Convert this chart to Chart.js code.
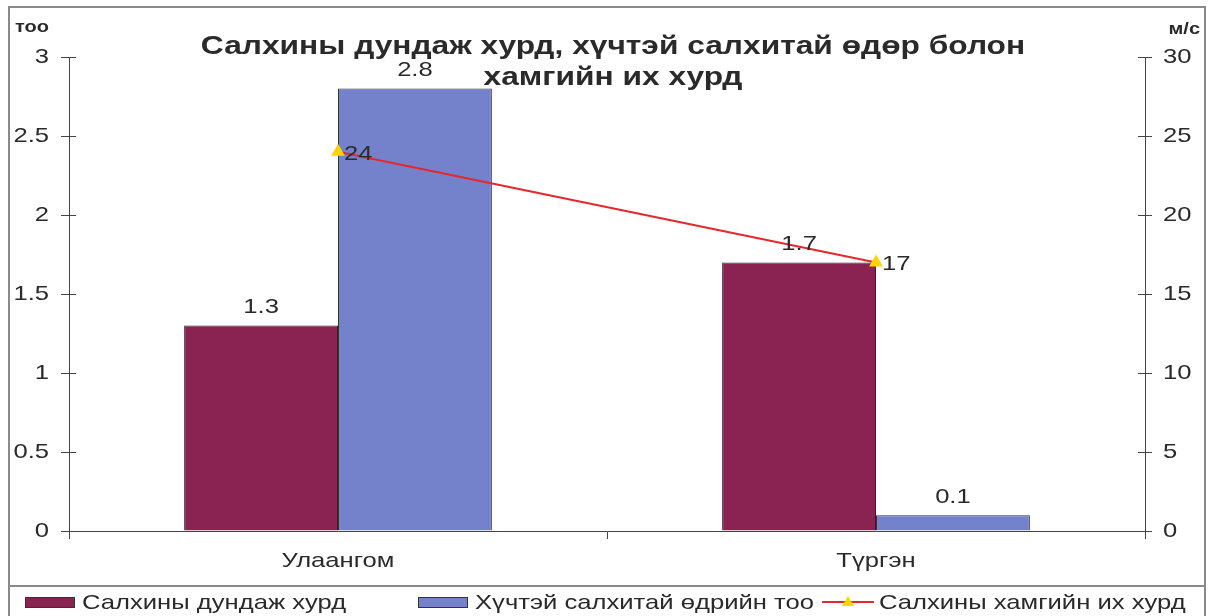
<!DOCTYPE html>
<html><head><meta charset="utf-8">
<script src="https://cdn.jsdelivr.net/npm/chart.js@4"></script>
<style>html,body{margin:0;padding:0;background:#fff}#wrap{width:1212px;height:616px;position:relative}</style>
</head><body><div id="wrap"><canvas id="c" width="1212" height="616"></canvas></div>
<script>
const categories = ['Улаангом', 'Түргэн'];
const avgSpeed = [1.3, 1.7];
const strongWindDays = [2.8, 0.1];
const maxSpeed = [24, 17];
const seriesNames = ['Салхины дундаж хурд', 'Хүчтэй салхитай өдрийн тоо', 'Салхины хамгийн их хурд'];
const titleLines = ['Салхины дундаж хурд, хүчтэй салхитай өдөр болон', 'хамгийн их хурд'];
const leftAxisTitle = 'тоо';
const rightAxisTitle = 'м/с';

const FONT = '"Liberation Sans", Arial, sans-serif';
const MAROON = '#8B2352', BLUE = '#7482CC', RED = '#E8272A', YELLOW = '#FFD400';
const TXT = '#2a2a2a';
const SX = 1.22; // horizontal stretch of the reference text

function stretchText(ctx, text, x, y, align, font, sx, baseline) {
  ctx.save();
  ctx.font = font;
  ctx.textBaseline = baseline || 'middle';
  ctx.textAlign = 'left';
  const w = ctx.measureText(text).width * sx;
  let left = x;
  if (align === 'center') left = x - w / 2;
  else if (align === 'right') left = x - w;
  ctx.translate(left, y);
  ctx.scale(sx, 1);
  ctx.fillText(text, 0, 0);
  ctx.restore();
}
function fmt(v) { return String(Math.round(v * 100) / 100); }

const decor = {
  id: 'decor',
  beforeDraw(chart) {
    const ctx = chart.ctx;
    ctx.save();
    ctx.fillStyle = '#fff';
    ctx.fillRect(0, 0, chart.width, chart.height);
    ctx.strokeStyle = '#8a8a8a';
    ctx.lineWidth = 2;
    ctx.strokeRect(9, 7, 1196, 640);
    ctx.beginPath(); ctx.moveTo(9, 586); ctx.lineTo(1205, 586); ctx.stroke();
    ctx.restore();
  },
  afterDraw(chart) {
    const ctx = chart.ctx;
    ctx.save();
    ctx.fillStyle = TXT;
    const F = '21px ' + FONT;
    // title
    stretchText(ctx, titleLines[0], 613, 47, 'center', 'bold 26px ' + FONT, SX);
    stretchText(ctx, titleLines[1], 613, 78, 'center', 'bold 26px ' + FONT, SX);
    // axis titles
    stretchText(ctx, leftAxisTitle, 15, 28, 'left', 'bold 16px ' + FONT, 1.25);
    stretchText(ctx, rightAxisTitle, 1200, 30, 'right', 'bold 16px ' + FONT, 1.25);
    // tick labels
    const ya = chart.scales.y, y2 = chart.scales.y2, xa = chart.scales.x;
    ya.ticks.forEach((t, i) => stretchText(ctx, fmt(t.value), 49, ya.getPixelForTick(i), 'right', F, SX));
    y2.ticks.forEach((t, i) => stretchText(ctx, fmt(t.value), 1163, y2.getPixelForTick(i), 'left', F, SX));
    xa.ticks.forEach((t, i) => stretchText(ctx, chart.data.labels[i], xa.getPixelForTick(i), 561, 'center', F, SX));
    // data labels
    [0, 1].forEach(di => {
      const meta = chart.getDatasetMeta(di);
      meta.data.forEach((el, i) => {
        stretchText(ctx, fmt(chart.data.datasets[di].data[i]), el.x, el.y - 18, 'center', F, SX);
      });
    });
    const lm = chart.getDatasetMeta(2);
    lm.data.forEach((el, i) => {
      stretchText(ctx, fmt(chart.data.datasets[2].data[i]), el.x + 6, el.y + 2, 'left', F, SX);
    });
    // legend
    const ly = 602;
    const ds = chart.data.datasets;
    const items = [
      {x: 25, type: 'bar', color: ds[0].backgroundColor, text: ds[0].label},
      {x: 418, type: 'bar', color: ds[1].backgroundColor, text: ds[1].label},
      {x: 822, type: 'line', color: ds[2].borderColor, text: ds[2].label}
    ];
    items.forEach(it => {
      if (it.type === 'bar') {
        ctx.fillStyle = it.color;
        ctx.fillRect(it.x, ly - 5, 50, 11);
        ctx.strokeStyle = '#333'; ctx.lineWidth = 1;
        ctx.strokeRect(it.x + 0.5, ly - 4.5, 49, 10);
      } else {
        ctx.strokeStyle = it.color; ctx.lineWidth = 2;
        ctx.beginPath(); ctx.moveTo(it.x, ly); ctx.lineTo(it.x + 52, ly); ctx.stroke();
        ctx.fillStyle = YELLOW;
        ctx.beginPath(); ctx.moveTo(it.x + 26, ly - 6); ctx.lineTo(it.x + 32, ly + 4); ctx.lineTo(it.x + 20, ly + 4); ctx.closePath(); ctx.fill();
      }
      ctx.fillStyle = TXT;
      stretchText(ctx, it.text, it.x + 57, ly + 1, 'left', F, SX);
    });
    // crossing tick marks inside the plot
    ctx.strokeStyle = '#444'; ctx.lineWidth = 1;
    ya.ticks.forEach((t, i) => {
      const yy = Math.round(ya.getPixelForTick(i)) + 0.5;
      ctx.beginPath(); ctx.moveTo(ya.right, yy); ctx.lineTo(ya.right + 7, yy); ctx.stroke();
    });
    y2.ticks.forEach((t, i) => {
      const yy = Math.round(y2.getPixelForTick(i)) + 0.5;
      ctx.beginPath(); ctx.moveTo(y2.left - 7, yy); ctx.lineTo(y2.left, yy); ctx.stroke();
    });
    ctx.restore();
  }
};

const hidden = 'rgba(0,0,0,0)';
new Chart(document.getElementById('c'), {
  type: 'bar',
  data: {
    labels: categories,
    datasets: [
      {label: seriesNames[0], data: avgSpeed, backgroundColor: MAROON, borderColor: '#3a1a2a', borderWidth: 1, yAxisID: 'y', order: 2},
      {label: seriesNames[1], data: strongWindDays, backgroundColor: BLUE, borderColor: '#333', borderWidth: 1, yAxisID: 'y', order: 2},
      {type: 'line', label: seriesNames[2], data: maxSpeed, borderColor: RED, borderWidth: 2, backgroundColor: YELLOW,
       pointStyle: 'triangle', pointRadius: 6, pointBackgroundColor: YELLOW, pointBorderColor: YELLOW, yAxisID: 'y2', order: 1}
    ]
  },
  options: {
    responsive: false, animation: false,
    layout: {padding: {top: 57, left: 0, right: 0, bottom: 0}},
    datasets: {bar: {categoryPercentage: 0.572, barPercentage: 1}},
    plugins: {legend: {display: false}, title: {display: false}, tooltip: {enabled: false}},
    scales: {
      x: {
        grid: {display: true, drawOnChartArea: false, drawTicks: true, tickLength: 8, color: '#444', offset: true},
        border: {display: true, color: '#444', width: 1},
        ticks: {color: hidden, font: {family: FONT, size: 18}, padding: 14},
        afterFit(s) { s.height = 85; }
      },
      y: {
        position: 'left', min: 0, max: 3,
        grid: {display: true, drawOnChartArea: false, drawTicks: true, tickLength: 8, color: '#444'},
        border: {display: true, color: '#444', width: 1},
        ticks: {stepSize: 0.5, color: hidden, font: {family: FONT, size: 19}, padding: 12},
        afterFit(s) { s.width = 69; }
      },
      y2: {
        position: 'right', min: 0, max: 30,
        grid: {display: true, drawOnChartArea: false, drawTicks: true, tickLength: 7, color: '#444'},
        border: {display: true, color: '#444', width: 1},
        ticks: {stepSize: 5, color: hidden, font: {family: FONT, size: 19}, padding: 4},
        afterFit(s) { s.width = 67; }
      }
    }
  },
  plugins: [decor]
});
</script></body></html>
